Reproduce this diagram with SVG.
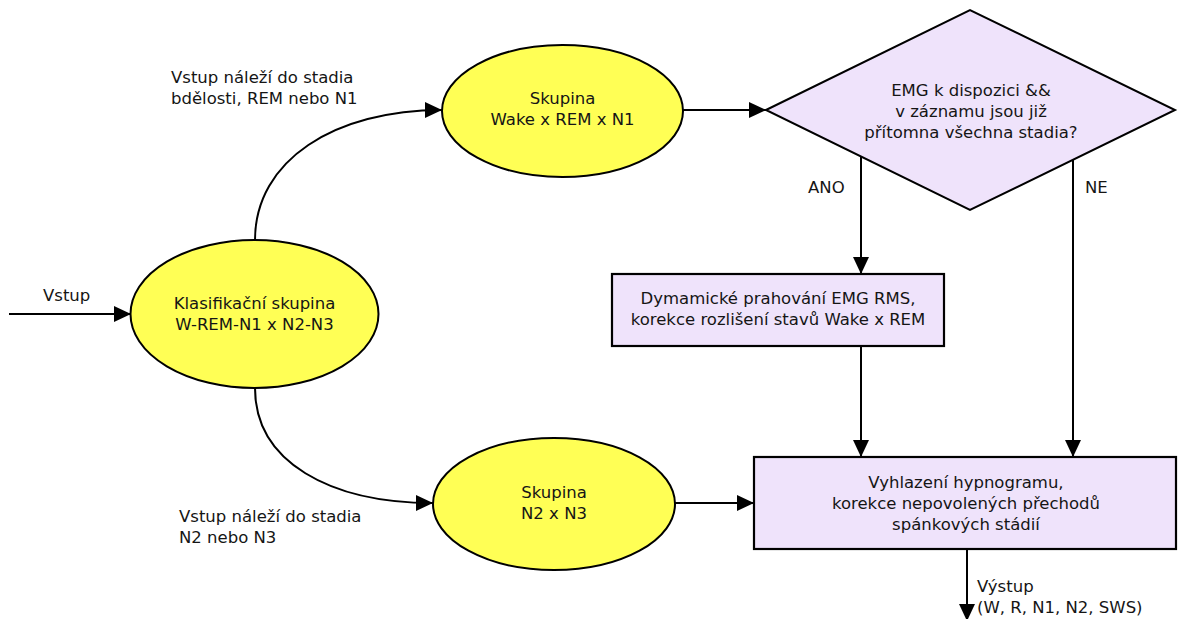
<svg xmlns="http://www.w3.org/2000/svg" width="1178" height="619" viewBox="0 0 1178 619">
  <defs>
    <marker id="arrow" markerUnits="userSpaceOnUse" markerWidth="18" markerHeight="16" refX="17" refY="8" orient="auto">
      <path d="M0,0 L17,8 L0,16 Z" fill="#000"/>
    </marker>
    <style>
      text { font-family: "DejaVu Sans", "Liberation Sans", sans-serif; font-size: 16.5px; fill: #151515; }
      .c { text-anchor: middle; }
      .oval { fill: #ffff55; stroke: #000; stroke-width: 2; }
      .proc { fill: #efe3fb; stroke: #000; stroke-width: 2.2; }
      .edge { fill: none; stroke: #000; stroke-width: 2; marker-end: url(#arrow); }
    </style>
  </defs>
  <rect width="1178" height="619" fill="#fff"/>

  <!-- connectors -->
  <g id="connectors">
    <path class="edge" d="M9,314 L131,314"/>
    <path class="edge" d="M255,240 C255,160 335,110 442,110"/>
    <path class="edge" d="M255,388 C255,462 330,503 433,503"/>
    <path class="edge" d="M683,110 L766,110"/>
    <path class="edge" d="M675,503 L754,503"/>
    <path class="edge" d="M861,157 L861,274"/>
    <path class="edge" d="M861,346 L861,457"/>
    <path class="edge" d="M1073,160 L1073,457"/>
    <path class="edge" d="M967,549 L967,621"/>
    <text x="43" y="301">Vstup</text>
    <text x="171" y="83">Vstup náleží do stadia</text>
    <text x="171" y="104">bdělosti, REM nebo N1</text>
    <text x="179" y="522">Vstup náleží do stadia</text>
    <text x="179" y="543">N2 nebo N3</text>
    <text x="808" y="193">ANO</text>
    <text x="1085" y="193">NE</text>
    <text x="977" y="592">Výstup</text>
    <text x="977" y="613">(W, R, N1, N2, SWS)</text>
  </g>

  <g id="node-classifier">
    <ellipse class="oval" cx="254.5" cy="314" rx="124" ry="74"/>
    <text class="c" x="254.5" y="309">Klasifikační skupina</text>
    <text class="c" x="254.5" y="330">W-REM-N1 x N2-N3</text>
  </g>

  <g id="node-wake">
    <ellipse class="oval" cx="562.5" cy="111" rx="120.5" ry="66"/>
    <text class="c" x="562.5" y="104">Skupina</text>
    <text class="c" x="562.5" y="125">Wake x REM x N1</text>
  </g>

  <g id="node-n2n3">
    <ellipse class="oval" cx="554" cy="504" rx="121" ry="66"/>
    <text class="c" x="554" y="498">Skupina</text>
    <text class="c" x="554" y="519">N2 x N3</text>
  </g>

  <g id="node-decision">
    <polygon class="proc" points="766,110 970,10 1175,110 970,210" style="stroke-width:2"/>
    <text class="c" x="971" y="96">EMG k dispozici &amp;&amp;</text>
    <text class="c" x="971" y="117">v záznamu jsou již</text>
    <text class="c" x="971" y="138">přítomna všechna stadia?</text>
  </g>

  <g id="node-emg">
    <rect class="proc" x="612" y="274" width="332" height="72"/>
    <text class="c" x="778" y="304">Dymamické prahování EMG RMS,</text>
    <text class="c" x="778" y="325">korekce rozlišení stavů Wake x REM</text>
  </g>

  <g id="node-smooth">
    <rect class="proc" x="754" y="457" width="422" height="92"/>
    <text class="c" x="966" y="488">Vyhlazení hypnogramu,</text>
    <text class="c" x="966" y="509">korekce nepovolených přechodů</text>
    <text class="c" x="966" y="530">spánkových stádií</text>
  </g>
</svg>
